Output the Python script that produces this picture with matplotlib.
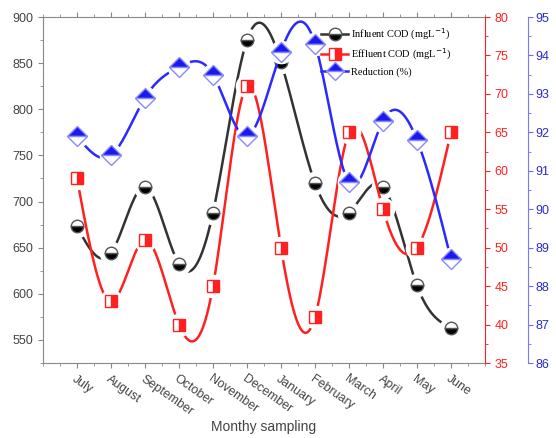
import numpy as np
import matplotlib
matplotlib.use("Agg")
import matplotlib.pyplot as plt
from matplotlib.lines import Line2D
from matplotlib.ticker import MultipleLocator

months = ["July", "August", "September", "October", "November", "December",
          "January", "February", "March", "April", "May", "June"]
influent = [673, 644, 716, 632, 688, 875, 851, 720, 688, 716, 609, 563]
effluent = [59, 43, 51, 40, 45, 71, 50, 41, 65, 55, 50, 65]
reduction = [91.9, 91.4, 92.9, 93.7, 93.5, 91.9, 94.1, 94.3, 90.7, 92.3, 91.8, 88.7]


def spline(x, y, n=40):
    x = np.asarray(x, float); y = np.asarray(y, float)
    m = len(x); h = np.diff(x)
    A = np.zeros((m, m)); b = np.zeros(m)
    A[0, 0] = A[-1, -1] = 1
    for i in range(1, m - 1):
        A[i, i - 1] = h[i - 1]; A[i, i] = 2 * (h[i - 1] + h[i]); A[i, i + 1] = h[i]
        b[i] = 3 * ((y[i + 1] - y[i]) / h[i] - (y[i] - y[i - 1]) / h[i - 1])
    c = np.linalg.solve(A, b)
    xs, ys = [], []
    for i in range(m - 1):
        bb = (y[i + 1] - y[i]) / h[i] - h[i] * (2 * c[i] + c[i + 1]) / 3
        d = (c[i + 1] - c[i]) / (3 * h[i])
        t = np.linspace(0, h[i], n)
        xs.append(x[i] + t); ys.append(y[i] + bb * t + c[i] * t**2 + d * t**3)
    return np.concatenate(xs), np.concatenate(ys)


plt.rcParams['font.family'] = ['Liberation Sans', 'DejaVu Sans']
fig = plt.figure(figsize=(5.56, 4.38), dpi=100)
ax = fig.add_axes([43/556, 1-363/438, (485-43)/556, (363-17)/438])
ax2 = ax.twinx()
ax3 = ax.twinx()
ax3.spines['right'].set_position(('outward', 31))

x = np.arange(len(months))
black = '#333333'; red = '#ff2020'; blue = '#2a2aff'

def draw(a, vals, col, marker, fs, facecol, edgecol, ms):
    sx, sy = spline(x, vals)
    a.plot(sx, sy, color=col, lw=1.8, zorder=2)
    a.plot(x, vals, ls='none', marker='o', ms=16, mfc='white', mec='white', zorder=3)
    a.plot(x, vals, ls='none', marker=marker, ms=ms, fillstyle=fs, mfc=facecol,
           markerfacecoloralt='white', mec=edgecol, mew=1.0, zorder=4)

draw(ax, influent, black, 'o', 'bottom', 'black', '#555555', 9)
draw(ax2, effluent, red, 's', 'right', red, red, 8)
draw(ax3, reduction, blue, 'D', 'top', '#1a1aee', '#8888ff', 10)

ax.set_xlim(-1, 12)
ax.set_ylim(525, 900)
ax2.set_ylim(35, 80)
ax3.set_ylim(86, 95)

ax.set_xticks(x)
ax.set_xticklabels(months, rotation=-35, ha='left', rotation_mode='anchor', fontsize=9, color='#444444')
ax.xaxis.set_minor_locator(MultipleLocator(0.5))
ax.set_yticks(np.arange(550, 901, 50))
ax.yaxis.set_minor_locator(MultipleLocator(25))
ax.tick_params(axis='y', labelsize=9, labelcolor='#444444', color='#888888')
ax.tick_params(axis='x', color='#888888')
ax.tick_params(which='minor', color='#888888')
ax.tick_params(axis='x', which='both', top=True)
for s in ['left', 'bottom', 'top']:
    ax.spines[s].set_color('#888888')
ax.spines['right'].set_visible(False)
ax.set_xlabel('Monthy sampling', fontsize=10, color='#444444', labelpad=2)

ax2.set_yticks(np.arange(35, 81, 5))
ax2.yaxis.set_minor_locator(MultipleLocator(2.5))
ax2.tick_params(axis='y', which='both', colors=red, labelsize=9)
ax2.spines['right'].set_color(red)
for s in ['left', 'top', 'bottom']:
    ax2.spines[s].set_visible(False)

ax3.set_yticks(np.arange(86, 96, 1))
ax3.yaxis.set_minor_locator(MultipleLocator(0.5))
ax3.tick_params(axis='y', which='both', colors='#6b6bff', labelsize=9, labelcolor='#2a2acc', pad=2)
ax3.spines['right'].set_color('#7777ff')
for s in ['left', 'top', 'bottom']:
    ax3.spines[s].set_visible(False)

handles = [
    Line2D([], [], color=black, lw=1.8, marker='o', ms=9, fillstyle='bottom', mfc='black',
           markerfacecoloralt='white', mec='#555555'),
    Line2D([], [], color=red, lw=1.8, marker='s', ms=8, fillstyle='right', mfc=red,
           markerfacecoloralt='white', mec=red),
    Line2D([], [], color=blue, lw=1.8, marker='D', ms=9, fillstyle='top', mfc='#1a1aee',
           markerfacecoloralt='white', mec='#8888ff'),
]
labels = ['Influent COD (mgL$^{-1}$)', 'Effluent COD (mgL$^{-1}$)', 'Reduction (%)']
leg = ax3.legend(handles, labels, loc='upper left', bbox_to_anchor=(0.62, 0.985), frameon=False,
                 prop={'family': 'Liberation Serif', 'size': 7.5}, handlelength=2.6,
                 labelspacing=0.5, handletextpad=0.3, borderaxespad=0)
leg.set_zorder(10)

fig.savefig('out.png', dpi=100)
